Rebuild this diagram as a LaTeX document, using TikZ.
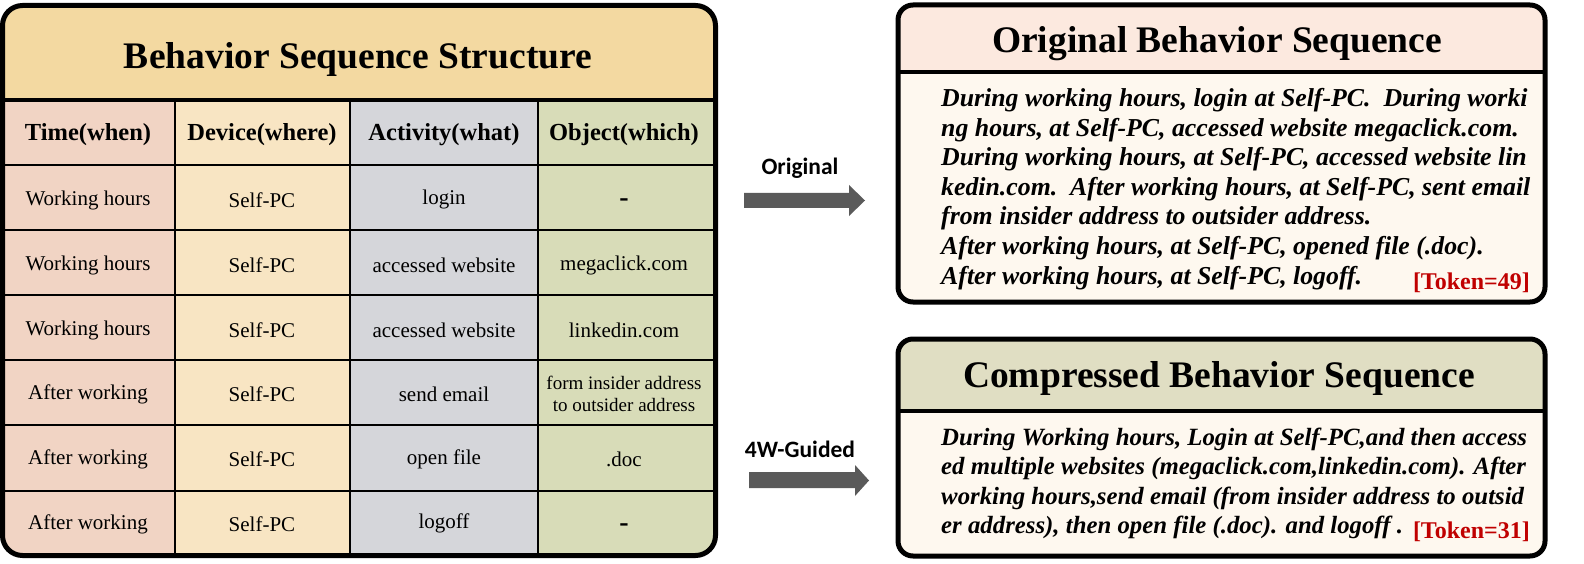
\documentclass[tikz,border=0pt]{standalone}
\usepackage{fontspec}
\setmainfont{Liberation Serif}
\newfontfamily\calib{Carlito}
\definecolor{hdrL}{RGB}{243,217,161}
\definecolor{colA}{RGB}{241,212,196}
\definecolor{colB}{RGB}{248,229,195}
\definecolor{colC}{RGB}{213,214,218}
\definecolor{colD}{RGB}{216,220,184}
\definecolor{hdrO}{RGB}{252,233,223}
\definecolor{hdrC}{RGB}{224,222,195}
\definecolor{bodyR}{RGB}{254,248,239}
\definecolor{arrowgray}{RGB}{90,90,90}
\definecolor{tokred}{RGB}{192,0,0}
\begin{document}
\begin{tikzpicture}[x=1pt,y=-1pt,
  boxtitle/.style={font=\fontsize{37.5}{40}\selectfont\bfseries, inner sep=0},
  hcell/.style={font=\fontsize{24.5}{28}\selectfont\bfseries, inner sep=0},
  cell/.style={font=\fontsize{21}{24}\selectfont, inner sep=0},
  smallcell/.style={font=\fontsize{19}{22}\selectfont, align=center, inner sep=0},
  dashcell/.style={font=\fontsize{28}{28}\selectfont\bfseries, inner sep=0},
  bodyline/.style={font=\fontsize{25.8}{30}\selectfont\bfseries\itshape, anchor=base west, inner sep=0},
  bodylineb/.style={font=\fontsize{24.8}{30}\selectfont\bfseries\itshape, anchor=base west, inner sep=0},
  token/.style={font=\fontsize{24}{28}\selectfont\bfseries, text=tokred, anchor=base east, inner sep=0},
  albl/.style={font=\calib\fontsize{23.5}{26}\selectfont\bfseries, inner sep=0},
  gridline/.style={line width=2.8pt},
  frame/.style={line width=5pt, rounded corners=20pt},
  rframe/.style={line width=5pt, rounded corners=15pt},
  blockarrow/.style={fill=arrowgray}
]
\useasboundingbox (0,0) rectangle (1584,564);

% ---------- left table ----------
\begin{scope}
  \clip[rounded corners=20pt] (2.5,5.5) rectangle (715.5,555.5);
  \fill[hdrL] (0,0) rectangle (720,100);
  \fill[colA] (0,100) rectangle (175,560);
  \fill[colB] (175,100) rectangle (350,560);
  \fill[colC] (350,100) rectangle (538,560);
  \fill[colD] (538,100) rectangle (720,560);
\end{scope}
\draw[line width=4pt] (2.5,100) -- (715.5,100);
\foreach \yy in {165,230,295,360,425,491}
  \draw[gridline] (2.5,\yy) -- (715.5,\yy);
\foreach \xx in {175,350,538}
  \draw[gridline] (\xx,100) -- (\xx,555.5);
\draw[frame] (2.5,5.5) rectangle (715.5,555.5);

\node[boxtitle] (ltitle) at (358,59) {Behavior Sequence Structure};

\node[hcell] (h1) at (88,135) {Time(when)};
\node[hcell] (h2) at (262,135) {Device(where)};
\node[hcell] (h3) at (444,135) {Activity(what)};
\node[hcell] (h4) at (624,135) {Object(which)};

\node[cell] (a1) at (88,200) {Working hours};
\node[cell] (b1) at (262,200) {Self-PC};
\node[cell] (c1) at (444,199) {login};
\node[dashcell] (d1) at (624,203) {-};

\node[cell] (a2) at (88,265) {Working hours};
\node[cell] (b2) at (262,265) {Self-PC};
\node[cell] (c2) at (444,265) {accessed website};
\node[cell] (d2) at (624,265) {megaclick.com};

\node[cell] (a3) at (88,330) {Working hours};
\node[cell] (b3) at (262,330) {Self-PC};
\node[cell] (c3) at (444,330) {accessed website};
\node[cell] (d3) at (624,330) {linkedin.com};

\node[cell] (a4) at (88,394) {After working};
\node[cell] (b4) at (262,394) {Self-PC};
\node[cell] (c4) at (444,394) {send email};
\node[smallcell] (d4) at (624,394) {form insider address\\to outsider address};

\node[cell] (a5) at (88,459) {After working};
\node[cell] (b5) at (262,459) {Self-PC};
\node[cell] (c5) at (444,459) {open file};
\node[cell] (d5) at (624,459) {.doc};

\node[cell] (a6) at (88,524) {After working};
\node[cell] (b6) at (262,524) {Self-PC};
\node[cell] (c6) at (444,523) {logoff};
\node[dashcell] (d6) at (624,528) {-};

% ---------- arrows ----------
\node[albl] (lorig) at (800,168) {Original};
\fill[blockarrow] (744,193) -- (849,193) -- (849,185) -- (865,200.5) -- (849,216) -- (849,208) -- (744,208) -- cycle;
\node[albl] (lguid) at (800,449) {4W-Guided};
\fill[blockarrow] (749,472) -- (855,472) -- (855,465) -- (869,480.5) -- (855,496) -- (855,488) -- (749,488) -- cycle;

% ---------- upper right box ----------
\begin{scope}
  \clip[rounded corners=15pt] (898,5) rectangle (1545,302);
  \fill[hdrO] (890,0) rectangle (1550,72);
  \fill[bodyR] (890,72) rectangle (1550,310);
\end{scope}
\draw[line width=4pt] (898,72) -- (1545,72);
\draw[rframe] (898,5) rectangle (1545,302);
\node[boxtitle] (otitle) at (1217,44) {Original Behavior Sequence};
\node[bodyline] (o1) at (941,107) {During working hours, login at Self-PC.\ \ During worki};
\node[bodyline] (o2) at (941,136.5) {ng hours, at Self-PC, accessed website megaclick.com.};
\node[bodyline] (o3) at (941,166) {During working hours, at Self-PC, accessed website lin};
\node[bodyline] (o4) at (941,195.5) {kedin.com.\ \ After working hours, at Self-PC, sent email};
\node[bodyline] (o5) at (941,225) {from insider address to outsider address.};
\node[bodyline] (o6) at (941,254.5) {After working hours, at Self-PC, opened file (.doc).};
\node[bodyline] (o7) at (941,284) {After working hours, at Self-PC, logoff.};
\node[token] (t1) at (1530,289) {[Token=49]};

% ---------- lower right box ----------
\begin{scope}
  \clip[rounded corners=15pt] (898,339) rectangle (1545,556);
  \fill[hdrC] (890,330) rectangle (1550,411);
  \fill[bodyR] (890,411) rectangle (1550,560);
\end{scope}
\draw[line width=4pt] (898,411) -- (1545,411);
\draw[rframe] (898,339) rectangle (1545,556);
\node[boxtitle] (ctitle) at (1219,378) {Compressed Behavior Sequence};
\node[bodylineb] (p1) at (941,445) {During Working hours, Login at Self-PC,and then access};
\node[bodylineb] (p2) at (941,474.5) {ed multiple websites (megaclick.com,linkedin.com). After};
\node[bodylineb] (p3) at (941,504) {working hours,send email (from insider address to outsid};
\node[bodylineb] (p4) at (941,533.5) {er address), then open file (.doc). and logoff .};
\node[token] (t2) at (1530,538) {[Token=31]};
\end{tikzpicture}
\end{document}
